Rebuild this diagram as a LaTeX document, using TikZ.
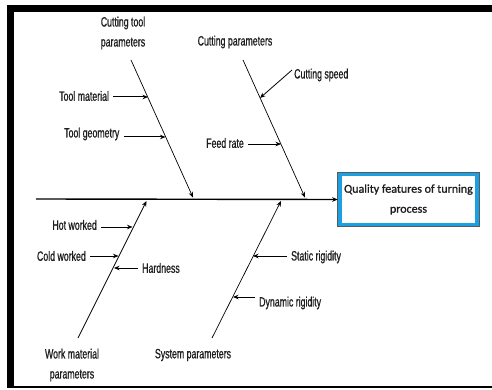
\documentclass[tikz,border=0pt]{standalone}
\usepackage{fontspec}
\newfontfamily\narr[FakeStretch=0.65,FakeBold=0.8]{Liberation Sans}
\newfontfamily\calib[FakeBold=1.2]{Carlito}
\usetikzlibrary{arrows.meta,calc}
\definecolor{boxblue}{RGB}{27,160,226}
\definecolor{txt}{RGB}{30,30,30}
\begin{document}
\begin{tikzpicture}[x=1pt,y=-1pt,
  lbl/.style={font=\narr\fontsize{13.5}{20}\selectfont, inner xsep=4pt, inner ysep=0pt, align=center, text=txt},
  arr/.style={-{Stealth[length=5.5pt,width=4.5pt]}, line width=1pt},
  bone/.style={-{Stealth[length=5.5pt,width=4.5pt]}, line width=0.7pt},
]
\useasboundingbox (0,0) rectangle (492,390);
% frame
\fill (6.5,5) rectangle (492,12);
\fill (6.5,5) rectangle (14,388);
\fill (6.5,385.5) rectangle (492,388);

% effect box
\node[draw=boxblue, line width=4pt, fill=white, minimum width=137.5pt, minimum height=50pt,
      inner sep=0pt, align=center, text=txt, font=\calib\fontsize{12}{20}\selectfont]
      (q) at (408.5,199.5) {Quality features of turning\\process};
\draw[gray!70!black, line width=1.2pt] (q.south west) rectangle (q.north east);

% spine
\coordinate (s0) at (36,199);
\draw[arr, line width=1.4pt] (s0) -- (q.west);

% bones
\coordinate (a0) at (131,60);  \coordinate (a1) at (193,197.5);
\coordinate (b0) at (243,60);  \coordinate (b1) at (305,197.5);
\coordinate (c0) at (78,338);  \coordinate (c1) at (146.5,201);
\coordinate (d0) at (212,338); \coordinate (d1) at (281,201);
\draw[bone] (a0) -- (a1);
\draw[bone] (b0) -- (b1);
\draw[bone] (c0) -- (c1);
\draw[bone] (d0) -- (d1);

% main labels
\node[lbl] (ctp) at (123,33) {Cutting tool\\parameters};
\node[lbl] (cpr) at (235,42) {Cutting parameters};
\node[lbl] (wmp) at (72,365) {Work material\\parameters};
\node[lbl] (spr) at (193,355) {System parameters};

% cause labels
\node[lbl, anchor=west] (tm) at (55,96) {Tool material};
\node[lbl, anchor=west] (tg) at (60,134) {Tool geometry};
\node[lbl, anchor=west] (cs) at (290,75) {Cutting speed};
\node[lbl, anchor=east] (fr) at (248,143) {Feed rate};
\node[lbl, anchor=east] (hw) at (101,225) {Hot worked};
\node[lbl, anchor=east] (cw) at (90,256) {Cold worked};
\node[lbl, anchor=west] (hd) at (138,268) {Hardness};
\node[lbl, anchor=west] (sr) at (287,257) {Static rigidity};
\node[lbl, anchor=west] (dr) at (255,303) {Dynamic rigidity};

% points on bones
\coordinate (tmp) at (148,97);
\coordinate (tgp) at (165.5,137);
\coordinate (csp) at (260,98);
\coordinate (frp) at (281,144);
\coordinate (hwp) at (132.5,227);
\coordinate (cwp) at (118.5,256);
\coordinate (hdp) at (114,268);
\coordinate (srp) at (253,256);
\coordinate (drp) at (233,297);

% cause arrows
\draw[arr] (tm.east |- tmp) -- (tmp);
\draw[arr] (tg.east |- tgp) -- (tgp);
\draw[arr, line width=0.8pt] ($(cs.west)+(2,-5)$) -- (csp);
\draw[arr, line width=0.8pt] (fr.east |- frp) -- (frp);
\draw[arr] (hw.east |- hwp) -- (hwp);
\draw[arr] (cw.east |- cwp) -- (cwp);
\draw[arr, line width=0.8pt] (hd.west |- hdp) -- (hdp);
\draw[arr, line width=0.8pt] (sr.west |- srp) -- (srp);
\draw[arr, line width=0.8pt] (dr.west |- drp) -- (drp);
\end{tikzpicture}
\end{document}
